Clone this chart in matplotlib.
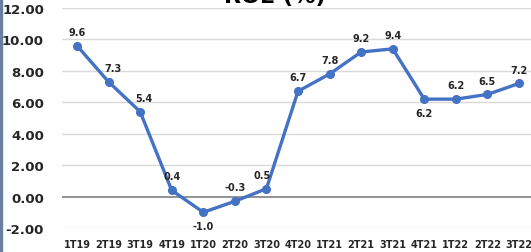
import matplotlib
matplotlib.use("Agg")
import matplotlib.pyplot as plt
from matplotlib.patches import Rectangle

categories = ["1T19", "2T19", "3T19", "4T19", "1T20", "2T20", "3T20", "4T20",
              "1T21", "2T21", "3T21", "4T21", "1T22", "2T22", "3T22"]
roe = [9.6, 7.3, 5.4, 0.4, -1.0, -0.3, 0.5, 6.7, 7.8, 9.2, 9.4, 6.2, 6.2, 6.5, 7.2]
label_below = [False, False, False, False, True, False, False, False,
               False, False, False, True, False, False, False]
label_dx = [0, 3, 3, 0, 0, 0, -3, 0, 0, 0, 0, 0, 0, 0, 0]
yticks = [-2, 0, 2, 4, 6, 8, 10, 12]
title = "ROE (%)"

fig = plt.figure(figsize=(5.31, 2.53), dpi=100)
ax = fig.add_axes([62/531, 1 - 229/253, 1 - 62/531, (229 - 9)/253])
ax.set_xlim(-0.475, 14.38)
ax.set_ylim(-2, 12)

for t in yticks:
    if t == 0:
        ax.axhline(t, color="#7f7f7f", lw=1.2, zorder=1)
    else:
        ax.axhline(t, color="#d9d9d9", lw=1.0, zorder=1)

x = list(range(len(categories)))
ax.plot(x, roe, color="#4472C4", lw=2.4, marker="o", ms=5.5, zorder=3)

for i, v in enumerate(roe):
    dy = -10 if label_below[i] else 10
    ax.annotate(f"{v:.1f}", (i, v), xytext=(label_dx[i], dy), textcoords="offset points",
                ha="center", va="center", fontsize=7, fontweight="bold", color="#262626")

ax.set_xticks(x)
ax.set_xticklabels(categories, fontsize=7, fontweight="bold", color="#262626")
ax.set_yticks(yticks)
ax.set_yticklabels([f"{t:.2f}" for t in yticks], fontsize=9.5, fontweight="bold", color="#262626")
ax.tick_params(length=0, axis="both")
ax.tick_params(axis="x", pad=8)
ax.tick_params(axis="y", pad=13)
for s in ax.spines.values():
    s.set_visible(False)

fig.text(0.518, 1 - 3/253, title, ha="center", va="baseline", fontsize=16, fontweight="bold", color="#000000")
fig.patches.append(Rectangle((0, 0), 2/531, 1, transform=fig.transFigure, color="#6a7fa0", zorder=10))

fig.savefig("out.png", dpi=100)
